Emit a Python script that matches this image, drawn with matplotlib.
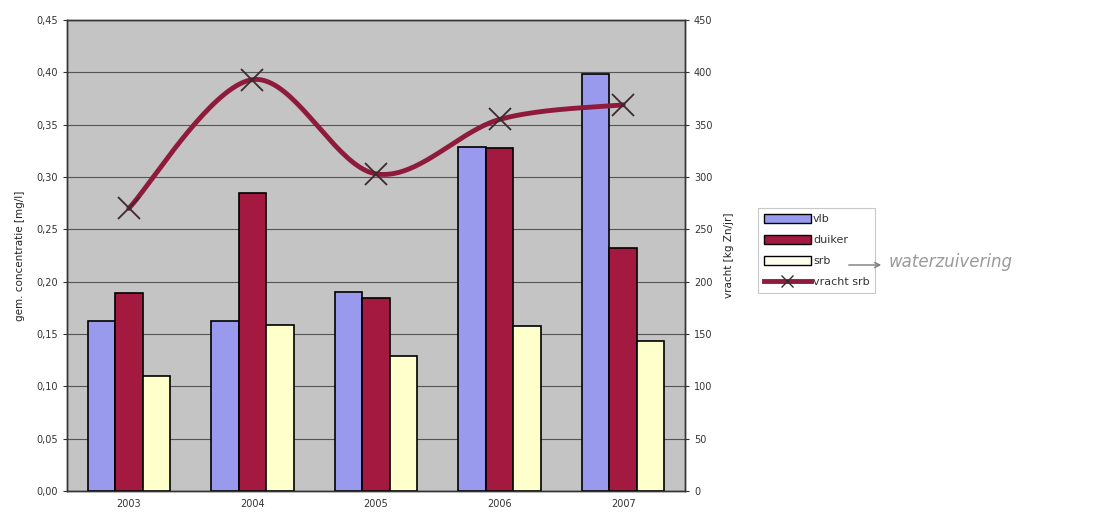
import matplotlib
matplotlib.use("Agg")
import matplotlib.pyplot as plt
import numpy as np
from matplotlib.patches import Patch, FancyArrowPatch
from matplotlib.lines import Line2D
from matplotlib.ticker import FuncFormatter

years = ["2003", "2004", "2005", "2006", "2007"]
vlb = [0.162, 0.162, 0.190, 0.329, 0.398]
duiker = [0.189, 0.285, 0.184, 0.328, 0.232]
srb = [0.110, 0.159, 0.129, 0.158, 0.143]
vracht_srb = [270, 393, 303, 355, 369]

c_vlb = "#9999EE"
c_duiker = "#A3193F"
c_srb = "#FFFFCC"
c_line = "#8E1B3C"

fig = plt.figure(figsize=(11.04, 5.15), dpi=100)
ax = fig.add_axes([67/1104, 24/515, 618/1104, 471/515])
ax.set_facecolor("#C4C4C4")

x = np.arange(len(years))
w = 1/4.5
ax.bar(x - w, vlb, w, color=c_vlb, edgecolor="black", linewidth=1.2, zorder=3)
ax.bar(x, duiker, w, color=c_duiker, edgecolor="black", linewidth=1.2, zorder=3)
ax.bar(x + w, srb, w, color=c_srb, edgecolor="black", linewidth=1.2, zorder=3)

ax.set_xlim(-0.5, len(years) - 0.5)
ax.set_ylim(0, 0.45)
ax.set_yticks(np.arange(0, 0.451, 0.05))
ax.yaxis.set_major_formatter(FuncFormatter(lambda v, p: f"{v:.2f}".replace(".", ",")))
ax.set_xticks(x)
ax.set_xticklabels(years)
ax.grid(axis="y", color="#555555", linewidth=0.8, zorder=0)
ax.set_axisbelow(True)
ax.tick_params(axis="both", labelsize=7, colors="#333333", length=3, width=0.8)
ax.tick_params(axis="x", length=0, pad=6)
for s in ax.spines.values():
    s.set_color("#333333")
    s.set_linewidth(1.0)
ax.set_ylabel("gem. concentratie [mg/l]", fontsize=7.5, color="#222222", labelpad=8)

ax2 = ax.twinx()
ax2.set_ylim(0, 450)
ax2.set_yticks(np.arange(0, 451, 50))
ax2.tick_params(axis="y", labelsize=7, colors="#333333", length=3, width=0.8)
ax2.set_ylabel("vracht [kg Zn/jr]", fontsize=7.5, color="#222222", labelpad=8)

# Excel-style smoothed line (Bezier through the data points)
px = x.astype(float)
py = np.array(vracht_srb, dtype=float)
cx, cy = [], []
n = len(px)
for i in range(n - 1):
    p0 = (px[max(i - 1, 0)], py[max(i - 1, 0)])
    p1 = (px[i], py[i])
    p2 = (px[i + 1], py[i + 1])
    p3 = (px[min(i + 2, n - 1)], py[min(i + 2, n - 1)])
    b1 = (p1[0] + (p2[0] - p0[0]) / 6, p1[1] + (p2[1] - p0[1]) / 6)
    b2 = (p2[0] - (p3[0] - p1[0]) / 6, p2[1] - (p3[1] - p1[1]) / 6)
    t = np.linspace(0, 1, 40)
    bx = (1-t)**3*p1[0] + 3*(1-t)**2*t*b1[0] + 3*(1-t)*t**2*b2[0] + t**3*p2[0]
    by = (1-t)**3*p1[1] + 3*(1-t)**2*t*b1[1] + 3*(1-t)*t**2*b2[1] + t**3*p2[1]
    cx.extend(bx)
    cy.extend(by)
ax2.plot(cx, cy, color=c_line, linewidth=3.5, zorder=5, solid_capstyle="round")
ax2.plot(px, py, linestyle="none", marker="x", markersize=16, markeredgewidth=1.3,
         color="#3A2A30", zorder=6)
for s in ax2.spines.values():
    s.set_color("#333333")
    s.set_linewidth(1.0)

handles = [
    Patch(facecolor=c_vlb, edgecolor="black", label="vlb"),
    Patch(facecolor=c_duiker, edgecolor="black", label="duiker"),
    Patch(facecolor="#FFFFF0", edgecolor="black", label="srb"),
    Line2D([0], [0], color=c_line, linewidth=3.5, marker="x", markersize=8,
           markeredgecolor="#3A2A30", label="vracht srb"),
]
leg = fig.legend(handles=handles, loc="upper left", bbox_to_anchor=(758/1104, 1 - 208/515),
                 fontsize=8, frameon=True, fancybox=False, handlelength=4.3,
                 handleheight=0.9, handletextpad=0.15, labelspacing=0.95, borderpad=0.5,
                 borderaxespad=0)
leg.get_frame().set_edgecolor("#BBBBBB")
leg.get_frame().set_linewidth(0.8)
for t in leg.get_texts():
    t.set_color("#333333")

# handwritten note: arrow + word next to the "srb" entry
arrow = FancyArrowPatch(
    (846/1104, 1 - 265/515), (884/1104, 1 - 265/515), transform=fig.transFigure,
    arrowstyle="->", mutation_scale=9, color="#7A7A7A", linewidth=1.0, zorder=20)
fig.add_artist(arrow)
fig.text(889/1104, 1 - 262/515, "waterzuivering", fontsize=12, color="#9A9A9A",
         style="italic", va="center", ha="left", zorder=20)

fig.savefig("out.png", dpi=100, facecolor="white")
